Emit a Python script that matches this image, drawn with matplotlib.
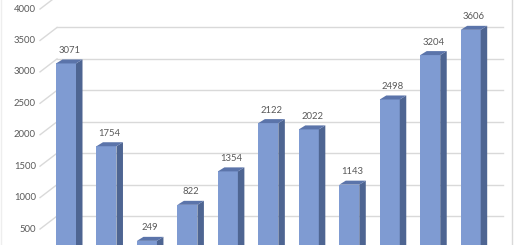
import matplotlib
matplotlib.use("Agg")
import matplotlib.pyplot as plt
import matplotlib.transforms as mtransforms
from matplotlib.patches import Polygon
import numpy as np

# data
values = [3071, 1754, 249, 822, 1354, 2122, 2022, 1143, 2498, 3204, 3606]
ticks = [500, 1000, 1500, 2000, 2500, 3000, 3500, 4000]

front_col = '#7F9BD2'
side_col = '#4E6592'
top_col = '#5B74AA'
grid_col = '#D9D9D9'
text_col = '#595959'

plt.rcParams['font.family'] = ['Lato', 'DejaVu Sans']

W, H, DPI = 520, 245, 100
fig = plt.figure(figsize=(W / DPI, H / DPI), dpi=DPI)
ax = fig.add_axes([0, 0, 1, 1])

# pixel geometry of the 3d look
step_px = 40.47          # distance between bars
bar_px = 20.0            # front face width
x0_px = 66.0             # centre of first bar
base_px = 256.5          # zero of the bars (from top)
scale_px = 0.06286       # pixels per unit
depth_dx, depth_dy = 6.5, 4.0

xmin = (0 - x0_px) / step_px
xmax = (W - x0_px) / step_px
ymax = base_px / scale_px
ymin = (base_px - H) / scale_px
ax.set_xlim(xmin, xmax)
ax.set_ylim(ymin, ymax)
ax.axis('off')

ux = 1.0 / step_px        # data units per pixel in x
uy = 1.0 / scale_px       # data units per pixel in y


def px_offset(dx, dy):
    return mtransforms.ScaledTranslation(dx / DPI, dy / DPI, fig.dpi_scale_trans)


# back wall gridlines and side wall diagonals
back = ax.transData + px_offset(0, 9)
front = ax.transData + px_offset(0, -4)
gx0 = xmin + 57 * ux
gx1 = xmin + 503 * ux
dx0 = xmin + 40 * ux
for t in ticks:
    ax.plot([gx0, gx1], [t, t], color=grid_col, lw=1.0, transform=back, zorder=1)
    ax.plot([dx0, gx0], [t - 4 * uy, t + 9 * uy], color=grid_col, lw=1.0, zorder=1)
    ax.text(xmin + 36 * ux, t, str(t), ha='right', va='center', fontsize=6.8,
            color=text_col, transform=front)

# chart border
ax.plot([xmin + 512 * ux] * 2, [ymin, ymax], color=grid_col, lw=1.0)
ax.plot([xmin + 1 * ux] * 2, [ymin, ymax], color='#EEEEEE', lw=1.0)

x = np.arange(len(values))
w = bar_px * ux
ax.bar(x, values, width=w, color=front_col, zorder=3, linewidth=0)
ddx, ddy = depth_dx * ux, depth_dy * uy
for xi, v in zip(x, values):
    l, r = xi - w / 2, xi + w / 2
    side = Polygon([(r, 0), (r, v), (r + ddx, v + ddy), (r + ddx, 0)],
                   closed=True, color=side_col, lw=0, zorder=3)
    top = Polygon([(l, v), (r, v), (r + ddx, v + ddy), (l + ddx, v + ddy)],
                  closed=True, color=top_col, lw=0, zorder=3)
    ax.add_patch(side)
    ax.add_patch(top)
    ax.annotate(str(v), (xi + ddx / 2, v + ddy), xytext=(0, 9), textcoords='offset pixels',
                ha='center', va='center', fontsize=6.8, color=text_col, zorder=4)

fig.savefig('out.png', dpi=DPI)
